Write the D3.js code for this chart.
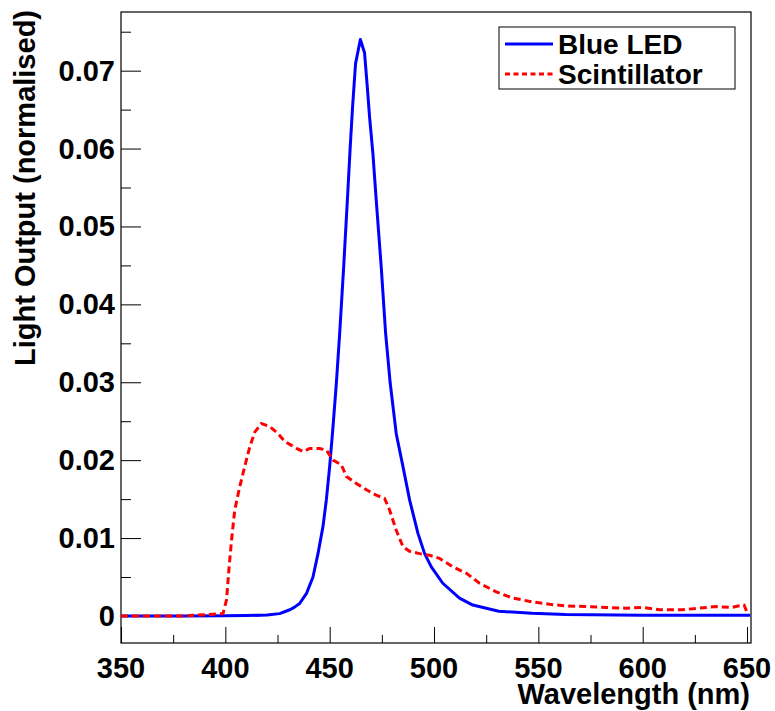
<!DOCTYPE html>
<html>
<head>
<meta charset="utf-8">
<script src="https://cdn.jsdelivr.net/npm/d3@7"></script>
<style>
  html, body { margin: 0; padding: 0; background: #fff; }
  svg { display: block; }
  text { font-family: "Liberation Sans", Arial, Helvetica, sans-serif; font-weight: bold; fill: #000; }
</style>
</head>
<body>
<svg id="chart" width="775" height="711"></svg>
<script>
// ---- data ----
const xTicks = [350, 400, 450, 500, 550, 600, 650];
const yTicks = [0, 0.01, 0.02, 0.03, 0.04, 0.05, 0.06, 0.07];
const yTickLabels = ["0", "0.01", "0.02", "0.03", "0.04", "0.05", "0.06", "0.07"];
const seriesNames = ["Blue LED", "Scintillator"];
const xLabel = "Wavelength (nm)";
const yLabel = "Light Output (normalised)";

const blueLED = [
  [350,0],[380,0],[400,0.00002],[410,0.00005],[420,0.00012],[426,0.0003],[430.9,0.0008],
  [433,0.0011],[435.6,0.0016],[438.9,0.0029],[442,0.0050],[444.4,0.0080],[446.8,0.0115],
  [448.4,0.0149],[450,0.0192],[451.6,0.0243],[453.2,0.0299],[454.8,0.0363],[456.7,0.0448],
  [458.4,0.0530],[459.8,0.0600],[461,0.0655],[462.4,0.0709],[464.7,0.0740],
  [466.7,0.0723],[468,0.0680],[469.1,0.0641],[470.7,0.0594],[472.3,0.0534],[474.7,0.0448],
  [476.8,0.0363],[479,0.0299],[481.9,0.0234],[485.1,0.0192],[488.3,0.0149],[492.3,0.0106],
  [495.5,0.0080],[498.7,0.0063],[504.2,0.0042],[512.2,0.0023],[518.6,0.0014],[531,0.0006],
  [547,0.00035],[563,0.0002],[600,0.0001],[651.5,0.0001]
];

const scintillator = [
  [350,0],[380,0],[398.9,0.0003],[400.6,0.0021],[401.8,0.0063],[403,0.0098],[404.5,0.0136],
  [406.9,0.0166],[409.3,0.0192],[411.7,0.0217],[414.1,0.0236],[417.3,0.0247],[421.3,0.0243],
  [425.3,0.0234],[428.5,0.0224],[431.7,0.0219],[434.1,0.0215],[437.3,0.0211],[440.4,0.0215],
  [445.2,0.0215],[448.4,0.0213],[451.6,0.0200],[455.6,0.0194],[458,0.0179],[462.8,0.0170],
  [467.6,0.0162],[472.3,0.0155],[476.3,0.0151],[478.7,0.0136],[481.9,0.0110],[485.1,0.0089],
  [488.3,0.0083],[493.1,0.0080],[497.8,0.0078],[502.6,0.0074],[509,0.0063],[515.4,0.0055],
  [521.8,0.0042],[529.8,0.0031],[537.7,0.0023],[547.3,0.0018],[555.3,0.0015],[563.3,0.0013],
  [572.8,0.0012],[582.4,0.0011],[592,0.0010],[599.9,0.0011],[607.9,0.0008],[619,0.0008],
  [627,0.0010],[635,0.0012],[643,0.0011],[646.2,0.0013],[648.6,0.0014],[650.2,0.0003]
];

// ---- layout ----
const frame = { left: 121, right: 751, top: 12, bottom: 643 };
const svg = d3.select("#chart");

const x = d3.scaleLinear().domain([350, 651.9]).range([frame.left, frame.right]);
const y = d3.scaleLinear().domain([-0.00347, 0.07753]).range([frame.bottom, frame.top]);

// frame
svg.append("rect")
  .attr("x", frame.left).attr("y", frame.top)
  .attr("width", frame.right - frame.left).attr("height", frame.bottom - frame.top)
  .attr("fill", "none").attr("stroke", "#000").attr("stroke-width", 1.2);

// x axis ticks (inside, upward)
const xMinor = d3.range(375, 651, 50);
const xAxisMajor = d3.axisTop(x).tickValues(xTicks).tickSize(16).tickFormat("");
const xAxisMinor = d3.axisTop(x).tickValues(xMinor).tickSize(8).tickFormat("");
[xAxisMajor, xAxisMinor].forEach(ax => {
  const g = svg.append("g").attr("transform", `translate(0,${frame.bottom})`).call(ax);
  g.select(".domain").remove();
  g.selectAll("line").attr("stroke", "#000").attr("stroke-width", 1);
});
// x tick labels
svg.append("g").selectAll("text").data(xTicks).join("text")
  .attr("x", d => x(d)).attr("y", 678)
  .attr("text-anchor", "middle")
  .style("font-size", "29px")
  .text(d => d);

// y axis ticks (inside, rightward)
const yMinor = d3.range(0.005, 0.0776, 0.01);
const yAxisMajor = d3.axisRight(y).tickValues(yTicks).tickSize(20).tickFormat("");
const yAxisMinor = d3.axisRight(y).tickValues(yMinor).tickSize(10).tickFormat("");
[yAxisMajor, yAxisMinor].forEach(ax => {
  const g = svg.append("g").attr("transform", `translate(${frame.left},0)`).call(ax);
  g.select(".domain").remove();
  g.selectAll("line").attr("stroke", "#000").attr("stroke-width", 1);
});
svg.append("g").selectAll("text").data(yTicks).join("text")
  .attr("x", 115).attr("y", d => y(d) + 10)
  .attr("text-anchor", "end")
  .style("font-size", "29px")
  .text((d, i) => yTickLabels[i]);

// axis titles
svg.append("text")
  .attr("x", 750).attr("y", 704)
  .attr("text-anchor", "end")
  .style("font-size", "29px")
  .text(xLabel);
svg.append("text")
  .attr("transform", "translate(35,10) rotate(-90)")
  .attr("text-anchor", "end")
  .style("font-size", "29px")
  .text(yLabel);

// lines
const line = d3.line().x(d => x(d[0])).y(d => y(d[1])).curve(d3.curveLinear);
svg.append("path").datum(blueLED)
  .attr("d", line).attr("fill", "none")
  .attr("stroke", "#0000ff").attr("stroke-width", 3).attr("stroke-linejoin", "round");
svg.append("path").datum(scintillator)
  .attr("d", line).attr("fill", "none")
  .attr("stroke", "#ff0000").attr("stroke-width", 3).attr("stroke-dasharray", "7,4");

// legend
const lg = svg.append("g");
lg.append("rect").attr("x", 499).attr("y", 27).attr("width", 236).attr("height", 62)
  .attr("fill", "#fff").attr("stroke", "#000").attr("stroke-width", 1);
const legendColors = ["#0000ff", "#ff0000"];
const legendDash = [null, "5,3.5"];
const legendY = [44, 74];
seriesNames.forEach((name, i) => {
  lg.append("line").attr("x1", 505).attr("x2", 553).attr("y1", legendY[i]).attr("y2", legendY[i])
    .attr("stroke", legendColors[i]).attr("stroke-width", 3)
    .attr("stroke-dasharray", legendDash[i]);
  lg.append("text").attr("x", 558).attr("y", legendY[i] + 10)
    .style("font-size", "28px").text(name);
});
</script>
</body>
</html>
